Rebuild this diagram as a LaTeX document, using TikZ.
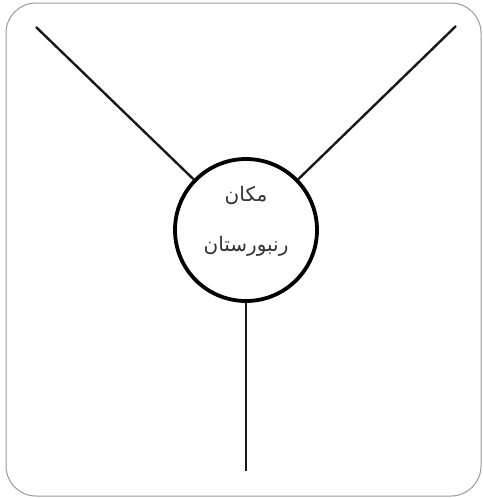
\documentclass[tikz,border=0pt]{standalone}
\usepackage{fontspec}
\newfontfamily\arabicfont[Script=Arabic]{DejaVu Sans}
\TeXXeTstate=1
\begin{document}
\begin{tikzpicture}[x=1pt,y=-1pt,
  hub/.style={circle,draw=black,line width=3.8pt,minimum size=142pt,inner sep=0pt},
  spoke/.style={draw=black!90,line width=2.4pt},
  lbl/.style={font=\arabicfont\fontsize{20}{24}\selectfont,text=black!80}]
\useasboundingbox (0,0) rectangle (482,498);
\draw[gray!80,line width=1pt,rounded corners=30pt] (6,3) rectangle (481,496);
\node[hub] (c) at (246,230) {};
\node[lbl] (t1) at (246,196) {\beginR مکان\endR};
\node[lbl] (t2) at (246,246) {\beginR رنبورستان\endR};
\coordinate (tl) at (36,27);
\coordinate (tr) at (456,26);
\coordinate (b) at (246,471);
\draw[spoke] (tl) -- (c);
\draw[spoke] (tr) -- (c);
\draw[spoke] (c) -- (b);
\end{tikzpicture}
\end{document}
